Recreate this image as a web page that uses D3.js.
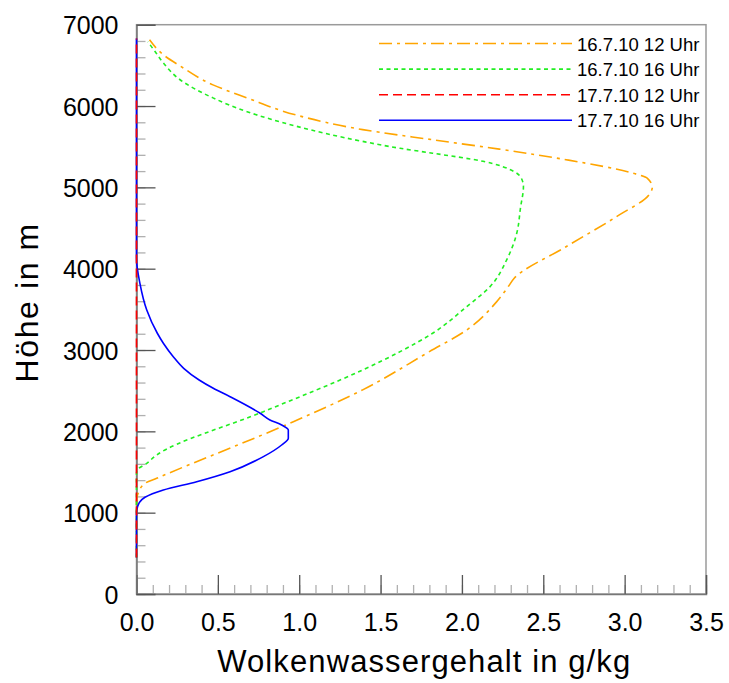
<!DOCTYPE html>
<html>
<head>
<meta charset="utf-8">
<script src="https://cdn.jsdelivr.net/npm/d3@7"></script>
<style>
  body { margin: 0; background: #fff; }
  svg text { font-family: "Liberation Sans", Arial, sans-serif; fill: #000; }
</style>
</head>
<body>
<div id="chart"></div>
<script>
var W = 729, H = 683;
var margin = { top: 24.7, right: 23, bottom: 89, left: 136.5 },
	width = W - margin.left - margin.right,
	height = H - margin.top - margin.bottom;

// series: Hoehe (m) and Wolkenwassergehalt (g/kg)
const seriesNames = ["16.7.10 12 Uhr", "16.7.10 16 Uhr", "17.7.10 12 Uhr", "17.7.10 16 Uhr"];

const hoehe1612 = [450, 1150, 1238, 1361, 1423, 2119, 2510, 2980, 3247, 3595, 3780, 3880, 4270, 4640, 4910, 5000, 5110, 5175, 5340, 5470, 5585, 5710, 5890, 6100, 6260, 6490, 6630, 6815];
const wert1612  = [0, 0, 0.01, 0.052, 0.124, 0.964, 1.39, 1.80, 2.03, 2.214, 2.285, 2.32, 2.64, 2.95, 3.15, 3.17, 3.14, 3.05, 2.64, 2.23, 1.82, 1.39, 0.98, 0.68, 0.47, 0.27, 0.165, 0.08];

const hoehe1616 = [450, 1480, 1525, 1607, 1709, 2242, 2755, 2980, 3206, 3534, 3780, 4108, 4436, 4750, 5010, 5090, 5195, 5320, 5420, 5480, 5565, 5750, 5930, 6100, 6320, 6530, 6670, 6790];
const wert1616  = [0, 0, 0.005, 0.063, 0.124, 0.78, 1.39, 1.62, 1.82, 2.03, 2.173, 2.275, 2.337, 2.36, 2.378, 2.37, 2.32, 2.13, 1.82, 1.62, 1.39, 0.985, 0.68, 0.47, 0.27, 0.165, 0.114, 0.07];

const hoehe1712 = [450, 6830];
const wert1712  = [0, 0];

const hoehe1716 = [450, 1000, 1123, 1189, 1279, 1381, 1504, 1689, 1832, 1915, 2017, 2078, 2140, 2222, 2426, 2529, 2631, 2775, 2918, 3083, 3206, 3492, 3820, 4127, 6830];
const wert1716  = [0, 0, 0.017, 0.052, 0.165, 0.37, 0.575, 0.78, 0.892, 0.933, 0.933, 0.892, 0.82, 0.76, 0.575, 0.472, 0.385, 0.29, 0.226, 0.165, 0.128, 0.063, 0.021, 0, 0];

const xTicks = [0, 0.5, 1, 1.5, 2, 2.5, 3, 3.5];
const yTicks = [0, 1000, 2000, 3000, 4000, 5000, 6000, 7000];

var svg = d3.select("#chart")
	.append("svg")
	.attr("width", W)
	.attr("height", H)
	.append("g")
	.attr("transform", "translate(" + margin.left + "," + margin.top + ")");

var x = d3.scaleLinear().domain([0, 3.5]).range([0, width]);
var y = d3.scaleLinear().domain([0, 7000]).range([height, 0]);

// frame
svg.append("rect")
	.attr("width", width)
	.attr("height", height)
	.attr("fill", "none")
	.attr("stroke", "#9a9a9a")
	.attr("stroke-width", 1.5);

// minor ticks
svg.append("g")
	.attr("transform", "translate(0," + height + ")")
	.call(d3.axisBottom(x).tickValues(d3.range(0, 3.51, 0.1)).tickSize(-9).tickFormat(""))
	.call(g => g.select(".domain").remove())
	.selectAll("line").attr("stroke", "#b0b0b0").attr("stroke-width", 1.3);
svg.append("g")
	.call(d3.axisLeft(y).tickValues(d3.range(0, 7001, 200)).tickSize(-9).tickFormat(""))
	.call(g => g.select(".domain").remove())
	.selectAll("line").attr("stroke", "#b0b0b0").attr("stroke-width", 1.3);

// major ticks + labels
var xAxis = svg.append("g")
	.attr("transform", "translate(0," + height + ")")
	.call(d3.axisBottom(x).tickValues(xTicks).tickSize(-19).tickPadding(21).tickFormat(d3.format(".1f")));
xAxis.select(".domain").attr("stroke", "#777").attr("stroke-width", 1.5);
xAxis.selectAll("line").attr("stroke", "#555").attr("stroke-width", 1.3);
xAxis.selectAll("text").attr("font-size", 25).attr("dy", "0.62em").style("font-family", "Liberation Sans, Arial, sans-serif").attr("fill", "#000");

var yAxis = svg.append("g")
	.call(d3.axisLeft(y).tickValues(yTicks).tickSize(-19).tickPadding(18).tickFormat(d3.format("d")));
yAxis.select(".domain").attr("stroke", "#777").attr("stroke-width", 1.5);
yAxis.selectAll("line").attr("stroke", "#555").attr("stroke-width", 1.3);
yAxis.selectAll("text").attr("font-size", 25).attr("dy", "0.36em").style("font-family", "Liberation Sans, Arial, sans-serif").attr("fill", "#000");

// axis titles
svg.append("text")
	.attr("x", width / 2 + 3)
	.attr("y", height + 78)
	.attr("text-anchor", "middle")
	.attr("font-size", 31)
	.attr("letter-spacing", 1.1)
	.text("Wolkenwassergehalt in g/kg");

svg.append("text")
	.attr("transform", "rotate(-90)")
	.attr("x", -(height / 2) + 7)
	.attr("y", 38 - margin.left)
	.attr("text-anchor", "middle")
	.attr("font-size", 32)
	.attr("letter-spacing", 1.6)
	.text("Höhe in m");

// curves
var styles = [
	{ color: "#ffa500", dash: "13,5,3,5" },
	{ color: "#22ee22", dash: "4,3.5" },
	{ color: "#ff0000", dash: "9,5" },
	{ color: "#0000ff", dash: null }
];
var series = [
	d3.zip(hoehe1612, wert1612),
	d3.zip(hoehe1616, wert1616),
	d3.zip(hoehe1712, wert1712),
	d3.zip(hoehe1716, wert1716)
];

var line = d3.line()
	.x(function (d) { return x(d[1]); })
	.y(function (d) { return y(d[0]); })
	.curve(d3.curveMonotoneY);

// draw order: orange, green, blue, red
[0, 1, 3, 2].forEach(function (i) {
	svg.append("path")
		.datum(series[i])
		.attr("d", line)
		.attr("fill", "none")
		.attr("stroke", styles[i].color)
		.attr("stroke-width", 1.6)
		.attr("stroke-dasharray", styles[i].dash);
});

// legend
var legend = svg.append("g").attr("transform", "translate(" + (379 - margin.left) + "," + (43.5 - margin.top) + ")");
seriesNames.forEach(function (name, i) {
	var row = legend.append("g").attr("transform", "translate(0," + i * 25.6 + ")");
	row.append("line")
		.attr("x1", 0).attr("x2", 193)
		.attr("stroke", styles[i].color)
		.attr("stroke-width", 1.6)
		.attr("stroke-dasharray", styles[i].dash);
	row.append("text")
		.attr("x", 198)
		.attr("y", 7)
		.attr("font-size", 18.5)
		.text(name);
});
</script>
</body>
</html>
